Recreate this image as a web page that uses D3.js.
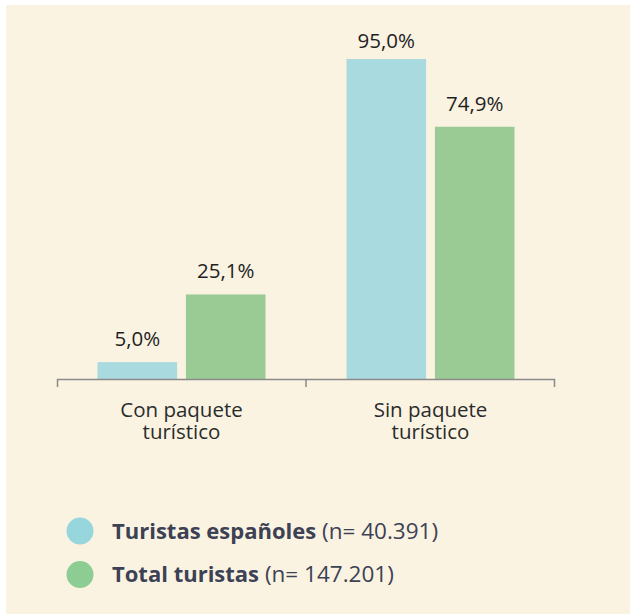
<!DOCTYPE html>
<html><head><meta charset="utf-8">
<script src="https://cdn.jsdelivr.net/npm/d3@7"></script>
<style>body{margin:0;background:#fff}svg{display:block}</style>
</head><body>
<svg id="c" width="630" height="614"></svg>
<script>
const categories = [["Con paquete","turístico"],["Sin paquete","turístico"]];
const seriesNames = ["Turistas españoles","Total turistas"];
const seriesN = ["(n= 40.391)","(n= 147.201)"];
const espanoles = [5.0, 95.0];
const total = [25.1, 74.9];
const valueLabels = [["5,0%","95,0%"],["25,1%","74,9%"]];
const barColors = ["#a8dadf","#9acb94"];
const legendColors = ["#96d6dc","#8dcd93"];

const svg = d3.select("#c");
svg.append("rect").attr("x",6).attr("y",5).attr("width",624).attr("height",609).attr("fill","#faf3e2");

const font = "'Open Sans', sans-serif";
const x0 = d3.scaleBand().domain([0,1]).range([57,555]).paddingInner(0).paddingOuter(0);
const x1 = d3.scaleBand().domain([0,1]).range([0,168]).paddingInner(0.1).paddingOuter(0);
const y = d3.scaleLinear().domain([0,100]).range([379,42.2]);
const series = [espanoles,total];

const g = svg.append("g");
categories.forEach((c,ci)=>{
  const off = x0(ci)+(x0.bandwidth()-168)/2;
  series.forEach((s,si)=>{
    const bx = off + x1(si);
    g.append("rect").attr("x",bx).attr("y",y(s[ci])).attr("width",x1.bandwidth())
      .attr("height",y(0)-y(s[ci])).attr("fill",barColors[si]);
    g.append("text").attr("x",bx+x1.bandwidth()/2).attr("y",Math.max(y(s[ci])-16,48))
      .attr("text-anchor","middle").attr("font-family",font).attr("font-size",20.5)
      .attr("fill","#1f1f1f").text(valueLabels[si][ci]);
  });
});

// axis
const ax = svg.append("g").attr("transform","translate(0,379)");
ax.append("path").attr("d",`M${x0.range()[0]+0.5},8V0.5H${x0.range()[1]-0.5}V8`).attr("fill","none").attr("stroke","#8a8a8a").attr("stroke-width",1.5);
ax.append("line").attr("x1",x0(1)).attr("x2",x0(1)).attr("y1",0).attr("y2",8).attr("stroke","#8a8a8a").attr("stroke-width",1.5);

categories.forEach((c,ci)=>{
  c.forEach((line,li)=>svg.append("text").attr("x",x0(ci)+x0.bandwidth()/2).attr("y",417+li*21.5)
    .attr("text-anchor","middle").attr("font-family",font).attr("font-size",20.5).attr("fill","#2b2b2b").text(line));
});

// legend
seriesNames.forEach((n,i)=>{
  const cy = 531 + i*43.5;
  svg.append("circle").attr("cx",80).attr("cy",cy).attr("r",13.5).attr("fill",legendColors[i]);
  const t = svg.append("text").attr("x",112).attr("y",cy+7.5).attr("font-family",font)
    .attr("font-size",22).attr("fill","#3c4154");
  t.append("tspan").attr("font-weight","bold").text(n);
  t.append("tspan").attr("font-size",22.5).text(" "+seriesN[i]);
});
</script>
</body></html>
